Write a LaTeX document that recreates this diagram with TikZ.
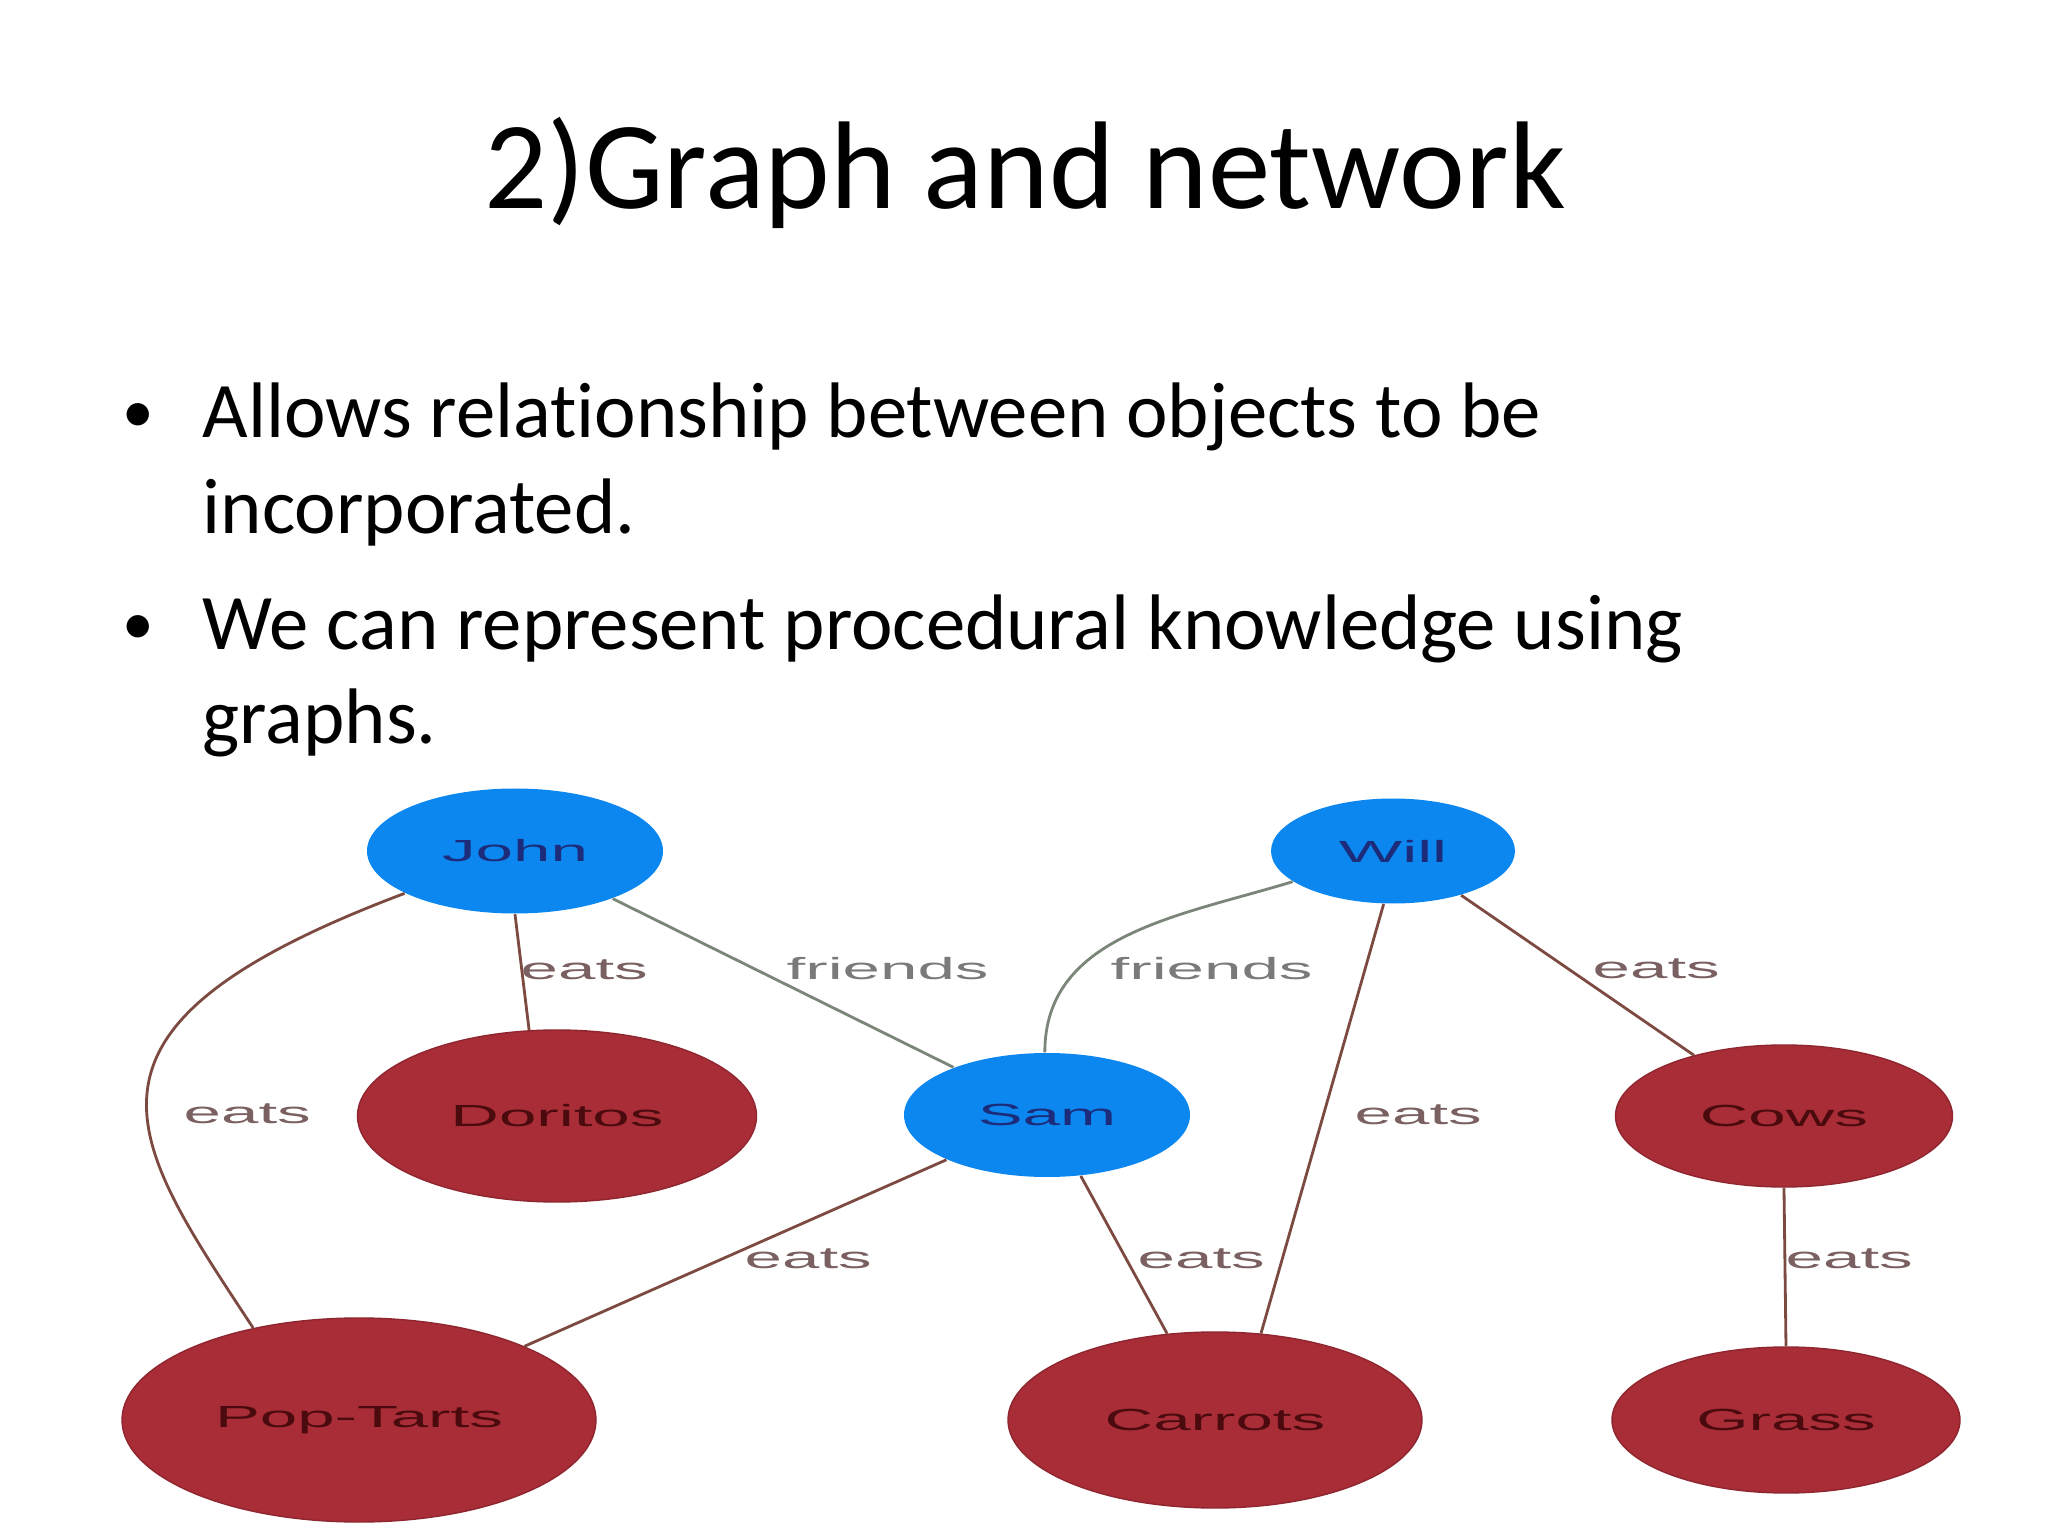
\documentclass[tikz,border=0pt]{standalone}
\usepackage{fontspec}
\setmainfont{Carlito}[Ligatures=NoCommon]
\newfontfamily\graphfont[FakeStretch=2.2]{Liberation Sans}
\usetikzlibrary{shapes.geometric}
\definecolor{mperson}{RGB}{12, 135, 240}
\definecolor{mfood}{RGB}{168, 45, 55}
\definecolor{mnavy}{RGB}{28, 44, 122}
\definecolor{mdark}{RGB}{74, 10, 14}
\definecolor{meats}{RGB}{125, 74, 66}
\definecolor{mfriends}{RGB}{122, 134, 120}
\definecolor{meatstext}{RGB}{122, 96, 96}
\definecolor{mfriendstext}{RGB}{122, 122, 122}
\newcommand{\gfont}{\graphfont\fontsize{8.7}{10}\selectfont}
\tikzset{
    person/.style={ellipse, fill=mperson, text=mnavy, font=\gfont, inner sep=0pt},
    food/.style={ellipse, fill=mfood, draw=mfood!85!black, line width=0.4pt, text=mdark, font=\gfont, inner sep=0pt},
    eatsline/.style={draw=meats, line width=0.8pt},
    friendsline/.style={draw=mfriends, line width=0.8pt},
    eatslabel/.style={anchor=west, text=meatstext, font=\gfont, inner sep=0pt},
    friendslabel/.style={anchor=west, text=mfriendstext, font=\gfont, inner sep=0pt},
    line/.style={anchor=base west, font=\fontsize{22.4}{27}\selectfont, inner sep=0pt},
    dot/.style={anchor=base west, font=\fontsize{18}{20}\selectfont, inner sep=0pt}
}

\begin{document}
\begin{tikzpicture}
    \fill [white] (0, 0) rectangle (20.48, -15.36);
    \useasboundingbox (0, 0) rectangle (20.48, -15.36);

    \node [anchor=base, font=\fontsize{35.5}{42}\selectfont, inner sep=0pt] (title) at (10.25, -2.09) {2)Graph and network};

    \node [dot] (dot1) at (1.22, -4.33) {\textbullet};
    \node [line] (line1) at (2.02, -4.38) {Allows relationship between objects to be};
    \node [line] (line2) at (2.02, -5.33) {incorporated.};
    \node [dot] (dot2) at (1.22, -6.44) {\textbullet};
    \node [line] (line3) at (2.02, -6.49) {We can represent procedural knowledge using};
    \node [line] (line4) at (2.02, -7.43) {graphs.};

    \node [person, minimum width=2.96cm, minimum height=1.25cm] (john) at (5.15, -8.51) {John};
    \node [person, minimum width=2.44cm, minimum height=1.05cm] (will) at (13.93, -8.51) {Will};
    \node [food, minimum width=3.99cm, minimum height=1.72cm] (doritos) at (5.57, -11.16) {Doritos};
    \node [person, minimum width=2.86cm, minimum height=1.24cm] (sam) at (10.47, -11.15) {Sam};
    \node [food, minimum width=3.37cm, minimum height=1.42cm] (cows) at (17.84, -11.16) {Cows};
    \node [food, minimum width=4.74cm, minimum height=2.04cm] (poptarts) at (3.59, -14.20) {Pop-Tarts};
    \node [food, minimum width=4.14cm, minimum height=1.76cm] (carrots) at (12.15, -14.20) {Carrots};
    \node [food, minimum width=3.48cm, minimum height=1.46cm] (grass) at (17.86, -14.20) {Grass};

    \draw [eatsline] (john.-90) -- (doritos.108);
    \draw [eatsline] (john.201) .. controls (0.47, -10.28) and (1.27, -11.36) .. (poptarts.139);
    \draw [friendsline] (john.-26) -- (sam.153);
    \draw [friendsline] (will.197) to[out=197, in=90] (sam.92);
    \draw [eatsline] (will.260) -- (carrots.62);
    \draw [eatsline] (will.-33) -- (cows.146);
    \draw [eatsline] (sam.204) -- (poptarts.24);
    \draw [eatsline] (sam.-61) -- (carrots.119);
    \draw [eatsline] (cows.south) -- (grass.north);

    \node [eatslabel] (eats1) at (5.20, -9.70) {eats};
    \node [eatslabel] (eats2) at (1.83, -11.14) {eats};
    \node [friendslabel] (friends1) at (7.86, -9.69) {friends};
    \node [friendslabel] (friends2) at (11.10, -9.69) {friends};
    \node [eatslabel] (eats3) at (15.92, -9.69) {eats};
    \node [eatslabel] (eats4) at (13.54, -11.15) {eats};
    \node [eatslabel] (eats5) at (7.44, -12.59) {eats};
    \node [eatslabel] (eats6) at (11.37, -12.59) {eats};
    \node [eatslabel] (eats7) at (17.85, -12.59) {eats};
  \end{tikzpicture}
\end{document}
